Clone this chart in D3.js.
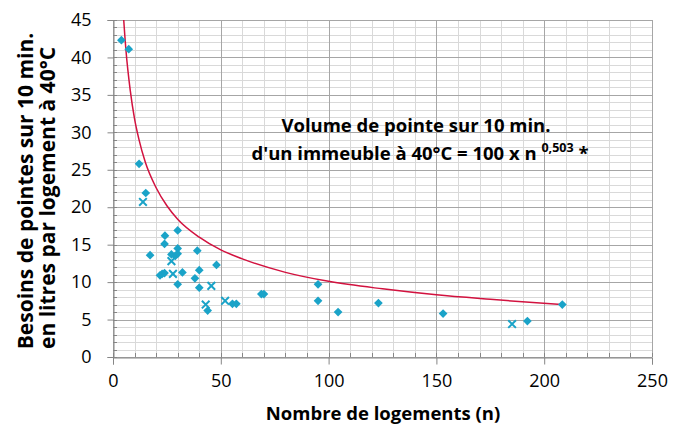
<!DOCTYPE html>
<html>
<head>
<meta charset="utf-8">
<script src="https://cdn.jsdelivr.net/npm/d3@7"></script>
<style>
  body { margin: 0; background: #fff; }
  text { font-family: "Open Sans", Lato, sans-serif; fill: #000; }
</style>
</head>
<body>
<div id="chart"></div>
<script>
// measured points (diamonds)
var diamondN = [3.9, 7.3, 12.1, 15.2, 17.2, 24.1, 30.0, 23.9, 30.0, 39.1, 27.1, 28.9, 30.0, 48.0, 40.0, 21.8, 22.8, 23.9, 32.2, 38.0, 30.0, 40.0, 68.8, 70.0, 55.4, 57.2, 43.9, 95.1, 95.1, 104.4, 123.1, 153.1, 192.2, 208.4];
var diamondV = [42.3, 41.1, 25.8, 21.9, 13.6, 16.2, 16.9, 15.1, 14.5, 14.2, 13.7, 13.5, 13.8, 12.3, 11.6, 10.9, 11.1, 11.2, 11.3, 10.5, 9.7, 9.25, 8.4, 8.4, 7.1, 7.1, 6.2, 9.7, 7.5, 6.0, 7.2, 5.8, 4.8, 7.0];

// second series (x markers)
var crossN = [13.9, 27.1, 27.8, 45.6, 43.0, 52.0, 185.1];
var crossV = [20.7, 12.8, 11.1, 9.5, 7.0, 7.5, 4.4];

// red curve
var curveN = [4.5, 5, 6, 8, 10, 12, 15, 20, 25, 30, 40, 50, 60, 80, 100, 125, 150, 175, 208];
var curveV = [47.3, 44.9, 41.0, 35.6, 31.8, 29.1, 26.0, 22.6, 20.2, 18.4, 16.0, 14.3, 13.1, 11.3, 10.1, 9.1, 8.3, 7.7, 7.0];

var xTicks = [0, 50, 100, 150, 200, 250];
var yTicks = [0, 5, 10, 15, 20, 25, 30, 35, 40, 45];

var width = 687, height = 426;
var mLeft = 113, mRight = 652, mTop = 20, mBottom = 357;
var blue = "#1aa3c8", red = "#d2123f";

var svg = d3.select("#chart").append("svg")
  .attr("width", width)
  .attr("height", height);

var x = d3.scaleLinear().domain([0, 250]).range([mLeft, mRight]);
var y = d3.scaleLinear().domain([0, 45]).range([mBottom, mTop]);

function px(v) { return Math.round(v) + 0.5; }

// minor grid
svg.append("g")
  .selectAll("line")
  .data(d3.range(0, 251, 10))
  .enter().append("line")
  .attr("x1", d => px(x(d))).attr("x2", d => px(x(d)))
  .attr("y1", mTop).attr("y2", mBottom)
  .attr("stroke", "#d9d9d9");
svg.append("g")
  .selectAll("line")
  .data(d3.range(0, 46, 1))
  .enter().append("line")
  .attr("x1", mLeft).attr("x2", mRight)
  .attr("y1", d => px(y(d))).attr("y2", d => px(y(d)))
  .attr("stroke", "#d9d9d9");

// major grid
svg.append("g")
  .selectAll("line")
  .data(xTicks)
  .enter().append("line")
  .attr("x1", d => px(x(d))).attr("x2", d => px(x(d)))
  .attr("y1", mTop).attr("y2", mBottom)
  .attr("stroke", "#a6a6a6");
svg.append("g")
  .selectAll("line")
  .data(yTicks)
  .enter().append("line")
  .attr("x1", mLeft).attr("x2", mRight)
  .attr("y1", d => px(y(d))).attr("y2", d => px(y(d)))
  .attr("stroke", "#a6a6a6");

// minor tick marks inside the axes
svg.append("g")
  .selectAll("line")
  .data(d3.range(0, 251, 10))
  .enter().append("line")
  .attr("x1", d => px(x(d))).attr("x2", d => px(x(d)))
  .attr("y1", mBottom - 4).attr("y2", mBottom)
  .attr("stroke", "#868686");
svg.append("g")
  .selectAll("line")
  .data(d3.range(0, 46, 1))
  .enter().append("line")
  .attr("x1", mLeft).attr("x2", mLeft + 4)
  .attr("y1", d => px(y(d))).attr("y2", d => px(y(d)))
  .attr("stroke", "#868686");

// axes
var xAxis = svg.append("g")
  .attr("transform", "translate(0," + px(mBottom) + ")")
  .call(d3.axisBottom(x).tickValues(xTicks).tickSize(7).tickPadding(10));
var yAxis = svg.append("g")
  .attr("transform", "translate(" + px(mLeft) + ",0)")
  .call(d3.axisLeft(y).tickValues(yTicks).tickSize(6).tickPadding(16));
[xAxis, yAxis].forEach(function(a) {
  a.select(".domain").attr("stroke", "#868686");
  a.selectAll(".tick line").attr("stroke", "#868686");
  a.selectAll("text").attr("fill", "#000")
    .style("font-size", "18px")
    .style("font-family", "'Open Sans', Lato, sans-serif");
});

// clip
svg.append("clipPath").attr("id", "plot")
  .append("rect").attr("x", mLeft).attr("y", mTop)
  .attr("width", mRight - mLeft).attr("height", mBottom - mTop);

var line = d3.line()
  .x(d => x(d[0]))
  .y(d => y(d[1]))
  .curve(d3.curveMonotoneX);

svg.append("path")
  .datum(d3.zip(curveN, curveV))
  .attr("clip-path", "url(#plot)")
  .attr("fill", "none")
  .attr("stroke", red)
  .attr("stroke-width", 1.5)
  .attr("d", line);

// points
var diamond = d3.symbol().type(d3.symbolSquare).size(38);
svg.append("g")
  .selectAll("path")
  .data(d3.zip(diamondN, diamondV))
  .enter().append("path")
  .attr("d", diamond)
  .attr("transform", d => "translate(" + x(d[0]) + "," + y(d[1]) + ") rotate(45)")
  .attr("fill", blue);

var cross = d3.symbol().type(d3.symbolX).size(40);
svg.append("g")
  .selectAll("path")
  .data(d3.zip(crossN, crossV))
  .enter().append("path")
  .attr("d", cross)
  .attr("transform", d => "translate(" + x(d[0]) + "," + y(d[1]) + ")")
  .attr("fill", "none")
  .attr("stroke", blue)
  .attr("stroke-width", 2);

// annotation
svg.append("text")
  .attr("x", 416).attr("y", 132)
  .attr("text-anchor", "middle")
  .style("font-size", "18.5px").style("font-weight", "bold")
  .text("Volume de pointe sur 10 min.");
var t2 = svg.append("text")
  .attr("x", 420).attr("y", 160)
  .attr("text-anchor", "middle")
  .style("font-size", "18.5px").style("font-weight", "bold");
t2.append("tspan").text("d'un immeuble à 40°C = 100 x n ");
t2.append("tspan").attr("dy", -8).style("font-size", "12.5px").text("0,503");
t2.append("tspan").attr("dy", 8).text(" *");

// axis titles
svg.append("text")
  .attr("x", 383).attr("y", 420)
  .attr("text-anchor", "middle")
  .style("font-size", "18.5px").style("font-weight", "bold")
  .text("Nombre de logements (n)");

svg.append("text")
  .attr("transform", "translate(33,191) rotate(-90)")
  .attr("text-anchor", "middle")
  .style("font-size", "21px").style("font-weight", "bold")
  .text("Besoins de pointes sur 10 min.");
svg.append("text")
  .attr("transform", "translate(55,198) rotate(-90)")
  .attr("text-anchor", "middle")
  .style("font-size", "21px").style("font-weight", "bold")
  .text("en litres par logement à 40°C");
</script>
</body>
</html>
